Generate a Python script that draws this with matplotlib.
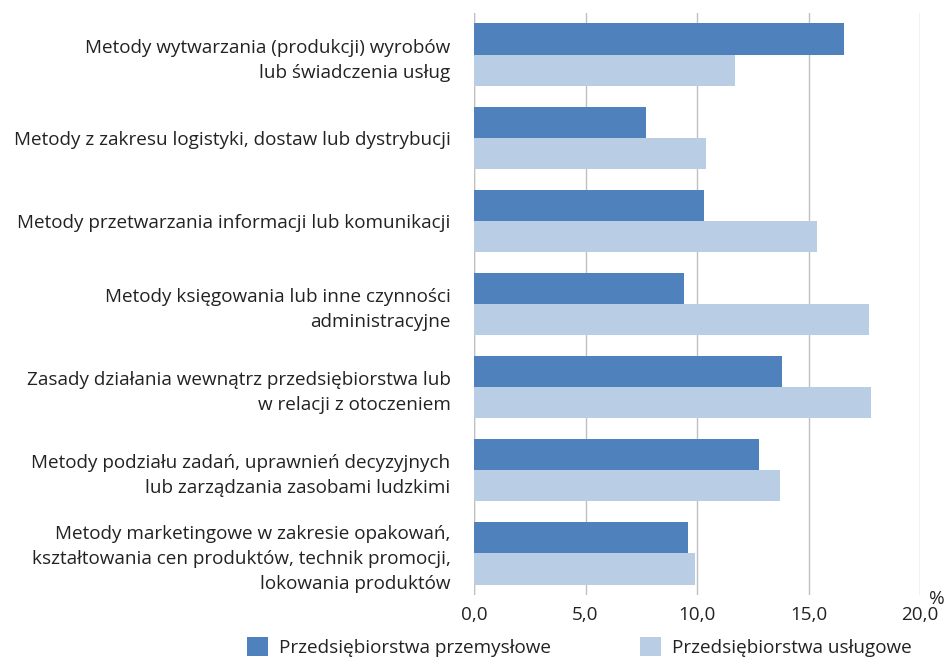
import matplotlib.pyplot as plt
import numpy as np
from matplotlib.patches import Patch

categories = [
    "Metody wytwarzania (produkcji) wyrobów\nlub świadczenia usług",
    "Metody z zakresu logistyki, dostaw lub dystrybucji",
    "Metody przetwarzania informacji lub komunikacji",
    "Metody księgowania lub inne czynności\nadministracyjne",
    "Zasady działania wewnątrz przedsiębiorstwa lub\nw relacji z otoczeniem",
    "Metody podziału zadań, uprawnień decyzyjnych\nlub zarządzania zasobami ludzkimi",
    "Metody marketingowe w zakresie opakowań,\nkształtowania cen produktów, technik promocji,\nlokowania produktów",
]
przemyslowe = [16.6, 7.7, 10.3, 9.4, 13.8, 12.8, 9.6]
uslugowe = [11.7, 10.4, 15.4, 17.7, 17.8, 13.7, 9.9]
xticks = [0, 5, 10, 15, 20]
xtick_labels = ["0,0", "5,0", "10,0", "15,0", "20,0"]

plt.rcParams["font.family"] = ["Open Sans", "DejaVu Sans"]
fs = 13.6

fig = plt.figure(figsize=(9.46, 6.59), dpi=100)
ax = fig.add_axes([474 / 946, 1 - 595 / 659, (920 - 474) / 946, (595 - 13) / 659])

y = np.arange(len(categories))
h = 0.375
dark = "#4f81bd"
light = "#b9cde5"
ax.barh(y - h / 2, przemyslowe, height=h, color=dark, zorder=3)
ax.barh(y + h / 2, uslugowe, height=h, color=light, zorder=3)

ax.set_ylim(len(categories) - 0.5, -0.5)
ax.set_xlim(0, 20)
ax.set_xticks(xticks)
ax.set_xticklabels(xtick_labels, fontsize=fs, color="#222222")
ax.set_yticks(y)
ax.set_yticklabels(categories, fontsize=fs, color="#222222", linespacing=1.5)
ax.tick_params(axis="y", length=0, pad=17)
ax.tick_params(axis="x", length=0, pad=8)
ax.grid(axis="x", color="#c0c0c0", linewidth=1.0, zorder=0)
for s in ax.spines.values():
    s.set_visible(False)
ax.axvline(0, color="#c0c0c0", linewidth=1.0, zorder=1)

fig.text(937 / 946, 1 - 599 / 659, "%", fontsize=fs, color="#222222", ha="center", va="center")

handles = [
    Patch(facecolor=dark, label="Przedsiębiorstwa przemysłowe"),
    Patch(facecolor=light, label="Przedsiębiorstwa usługowe"),
]
fig.legend(handles=handles, loc="center", bbox_to_anchor=(579 / 946, 1 - 647 / 659),
           ncol=2, frameon=False, fontsize=fs, handlelength=1.15, handleheight=1.15,
           columnspacing=4.7, handletextpad=0.55, labelcolor="#222222")

fig.savefig("out.png", dpi=100)
